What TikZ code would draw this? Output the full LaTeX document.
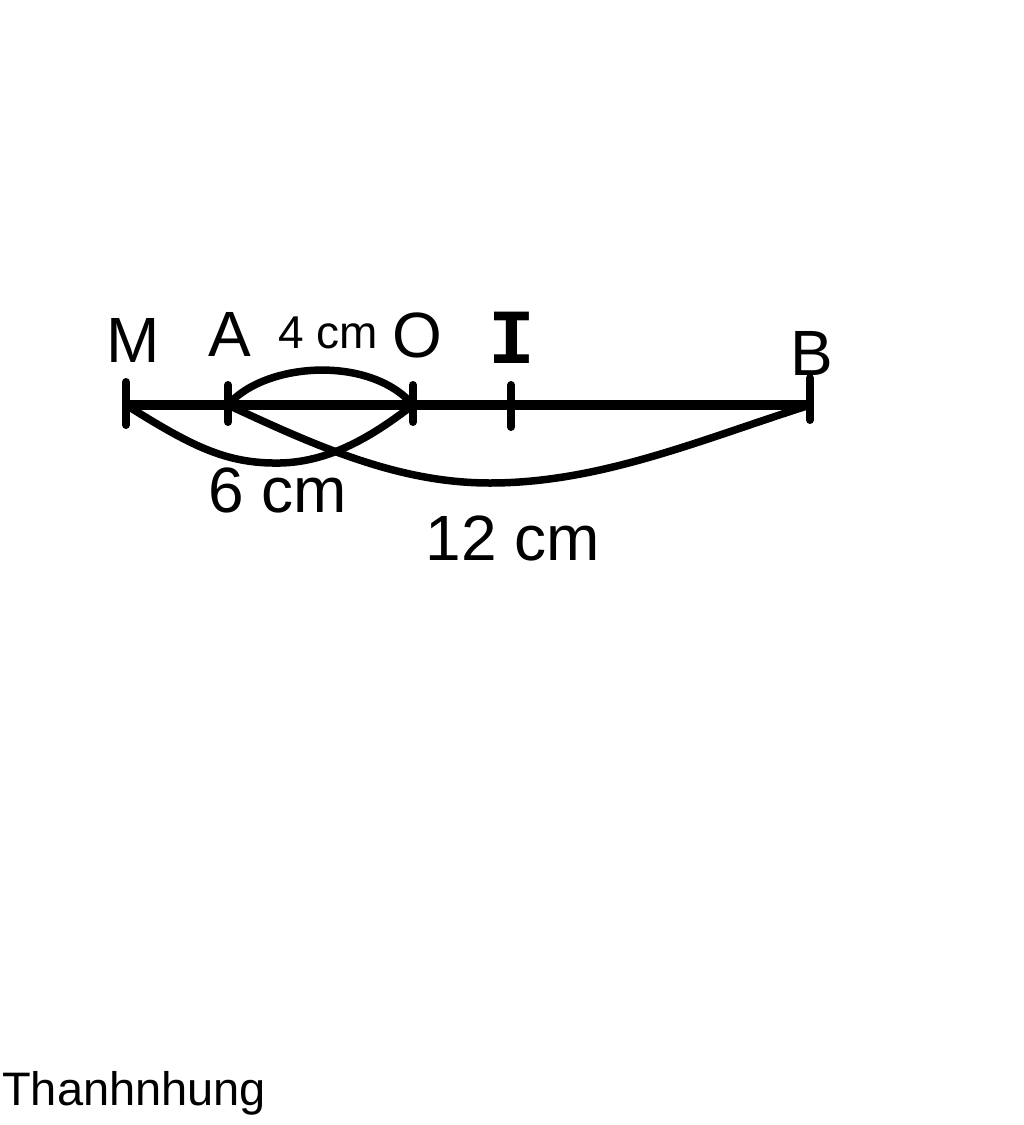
\documentclass[tikz,border=0pt]{standalone}
\usepackage{fontspec}
\setmainfont{Liberation Sans}
\setmonofont{Liberation Mono}
\usetikzlibrary{positioning}

\begin{document}
\begin{tikzpicture}[x=1pt, y=-1pt, line cap=round,
		lbl/.style={inner sep=0pt, font=\fontsize{64}{70}\selectfont},
		small lbl/.style={inner sep=0pt, font=\fontsize{46}{52}\selectfont},
		bow/.style={line width=7.5pt},
		ticksty/.style={line width=8pt}]
			\useasboundingbox (0,0) rectangle (1024,1125);
			% diem tren doan thang
			\coordinate (M) at (126,405);
			\coordinate (A) at (228,405);
			\coordinate (O) at (413,405);
			\coordinate (I) at (511,405);
			\coordinate (B) at (810,405);
			% doan thang
			\draw[line width=9.5pt, line cap=butt] (M) -- (B);
			\draw[ticksty] ([yshift=-20]M) -- ([yshift=23]M);
			\draw[ticksty] ([yshift=-17]A) -- ([yshift=20]A);
			\draw[ticksty] ([yshift=-17]O) -- ([yshift=20]O);
			\draw[ticksty] ([yshift=-22]I) -- ([yshift=20]I);
			\draw[ticksty] ([yshift=-15]B) -- ([yshift=27]B);
			% ten diem
			\node[lbl] (lM) at (133,340) {M};
			\node[lbl] (lA) at (230,334) {A};
			\node[lbl] (lO) at (417,335) {O};
			\node[lbl] (lB) at (812,353) {B};
			\node[inner sep=0pt, font=\fontsize{78}{84}\selectfont\ttfamily\bfseries] (lI) at (512,338) {I};
			% cac cung
			\draw[bow] (A) .. controls (265,362) and (370,355) .. (O);
			\draw[bow] (M) .. controls (190,445) and (225,464) .. (280,463)
				.. controls (335,462) and (380,430) .. (O);
			\draw[bow] (A) .. controls (320,448) and (400,483) .. (490,483)
				.. controls (600,483) and (700,440) .. (B);
			% do dai
			\node[small lbl] (d4) at (328,333) {4 cm};
			\node[lbl] (d6) at (278,490) {6 cm};
			\node[lbl] (d12) at (513,538) {12 cm};
			\node[anchor=base west, inner sep=0pt, font=\fontsize{47}{52}\selectfont] (sig) at (2,1105) {Thanhnhung};
		\end{tikzpicture}
\end{document}
